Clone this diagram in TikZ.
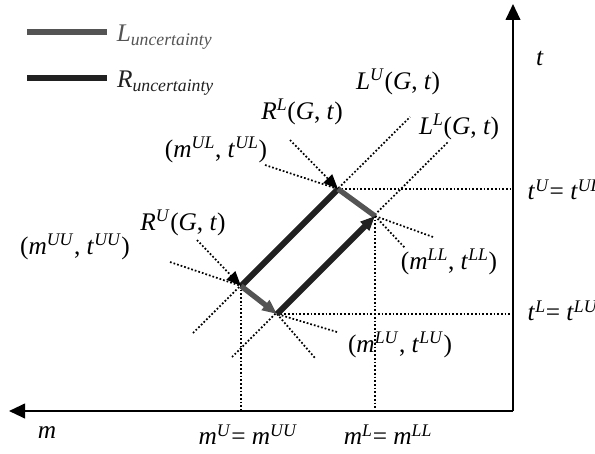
\documentclass[tikz,border=0pt]{standalone}
\usepackage{fontspec}
\setmainfont{Liberation Serif}
\usetikzlibrary{arrows.meta}
\newcommand{\iv}[1]{\textit{#1}}
\newcommand{\sx}[1]{\textsuperscript{\textit{#1}}}
\newcommand{\bx}[1]{\textsubscript{\textit{#1}}}

\begin{document}
\begin{tikzpicture}[x=0.75pt,y=-0.75pt,font=\fontsize{19}{22}\selectfont,
  >={Triangle[length=11pt,width=9pt]},
  dotline/.style={line width=1.3pt,dash pattern=on 1.3pt off 1.5pt},
  rseg/.style={line width=4.5pt,black!87},
  lseg/.style={line width=4pt,black!67}]
  \useasboundingbox (0,0) rectangle (595,453);
  % axes
  \coordinate (o) at (513,411);
  \coordinate (tend) at (513,4);
  \coordinate (mend) at (9,411);
  \draw[line width=1.5pt,-{Triangle[length=12pt,width=11pt]}] (o) -- (tend);
  \draw[line width=1.5pt,-{Triangle[length=12pt,width=11pt]}] (o) -- (mend);
  \node (tlab) at (540,58) {\iv{t}};
  \node (mlab) at (47,433) {\iv{m}};
  % legend
  \coordinate (lgl) at (27,32);
  \coordinate (lgr) at (27,78);
  \draw[lseg] (lgl) -- ++(80,0) node[anchor=base west,xshift=2pt,yshift=-7pt] (lgltext) {\iv{L}\bx{uncertainty}};
  \draw[rseg] (lgr) -- ++(80,0) node[anchor=base west,xshift=2pt,yshift=-7pt] (lgrtext) {\iv{R}\bx{uncertainty}};
  % corners of the box
  \coordinate (uu) at (241,286);
  \coordinate (ul) at (338,189);
  \coordinate (ll) at (375,216);
  \coordinate (lu) at (277,314);
  % dotted guide lines
  \coordinate (lupA) at (193,333);
  \coordinate (lupB) at (410,117);
  \coordinate (lloA) at (232,357);
  \coordinate (lloB) at (448,142);
  \coordinate (rupA) at (197,240);
  \coordinate (rupB) at (315,358);
  \coordinate (rloA) at (290,140);
  \coordinate (rloB) at (405,248);
  \draw[dotline] (lupA) -- (lupB);
  \draw[dotline] (lloA) -- (lloB);
  \draw[dotline] (lu) -- (rupB);
  \draw[dotline] (ll) -- (rloB);
  \draw[dotline] (ul) -- (ul -| o);
  \draw[dotline] (lu) -- (lu -| o);
  \draw[dotline] (uu) -- (uu |- o);
  \draw[dotline] (ll) -- (ll |- o);
  \draw[dotline] (170,262) coordinate (uup) -- (uu);
  \draw[dotline] (265,165) coordinate (ulp) -- (ul);
  \draw[dotline] (433,237) coordinate (llp) -- (ll);
  \draw[dotline] (337,332) coordinate (lup) -- (lu);
  % uncertainty segments
  \draw[rseg] (uu) -- (ul);
  \draw[lseg] (ul) -- (ll);
  \draw[lseg,->] (uu) -- (lu);
  \draw[rseg,->] (lu) -- (ll);
  \draw[dotline,->] (rupA) -- (uu);
  \draw[dotline,->] (rloA) -- (ul);
  % labels
  \node[anchor=west] (tuq) at (523,190) {\iv{t}\sx{U}= \iv{t}\sx{UL}};
  \node[anchor=west] (tlq) at (523,311) {\iv{t}\sx{L}= \iv{t}\sx{LU}};
  \node (muq) at (248,435) {\iv{m}\sx{U}= \iv{m}\sx{UU}};
  \node (mlq) at (388,435) {\iv{m}\sx{L}= \iv{m}\sx{LL}};
  \node (uuq) at (75,247) {(\iv{m}\sx{UU}, \iv{t}\sx{UU})};
  \node (ulq) at (216,150) {(\iv{m}\sx{UL}, \iv{t}\sx{UL})};
  \node (llq) at (449,262) {(\iv{m}\sx{LL}, \iv{t}\sx{LL})};
  \node (luq) at (400,345) {(\iv{m}\sx{LU}, \iv{t}\sx{LU})};
  \node (rupq) at (183,223) {\iv{R}\sx{U}(\iv{G}, \iv{t})};
  \node (rloq) at (302,112) {\iv{R}\sx{L}(\iv{G}, \iv{t})};
  \node (lupq) at (398,82) {\iv{L}\sx{U}(\iv{G}, \iv{t})};
  \node (lloq) at (459,127) {\iv{L}\sx{L}(\iv{G}, \iv{t})};
\end{tikzpicture}
\end{document}
